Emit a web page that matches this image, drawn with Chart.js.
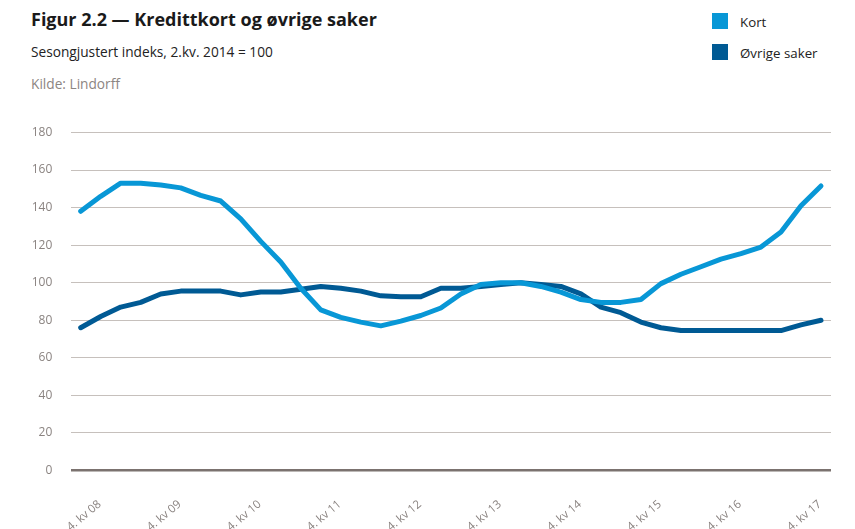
<!DOCTYPE html>
<html>
<head>
<meta charset="utf-8">
<script src="https://cdn.jsdelivr.net/npm/chart.js@4"></script>
<style>
html,body{margin:0;padding:0;background:#fff;overflow:hidden;width:855px;height:529px;}
body{position:relative;font-family:"Open Sans",sans-serif;}
.t{position:absolute;white-space:nowrap;line-height:1;}
#title{left:31px;top:10px;font-size:18px;font-weight:700;color:#1a1a1a;}
#sub{left:31px;top:44.5px;font-size:13.7px;color:#222;}
#src{left:31px;top:76.5px;font-size:13.7px;color:#8c8582;}
.sw{position:absolute;width:16px;height:16px;}
.lt{position:absolute;font-size:13.3px;color:#222;line-height:1;white-space:nowrap;}
#wrap{position:absolute;left:0;top:0;width:855px;height:536px;}
</style>
</head>
<body>
<div class="t" id="title">Figur 2.2 — Kredittkort og øvrige saker</div>
<div class="t" id="sub">Sesongjustert indeks, 2.kv. 2014 = 100</div>
<div class="t" id="src">Kilde: Lindorff</div>
<div id="legend"></div>
<div id="wrap"><canvas id="c"></canvas></div>
<script>
// Categories: quarters from 4. kv 2008 to 1. kv 2018
const quarters = [
  '4. kv 08',
  '1. kv 09','2. kv 09','3. kv 09','4. kv 09',
  '1. kv 10','2. kv 10','3. kv 10','4. kv 10',
  '1. kv 11','2. kv 11','3. kv 11','4. kv 11',
  '1. kv 12','2. kv 12','3. kv 12','4. kv 12',
  '1. kv 13','2. kv 13','3. kv 13','4. kv 13',
  '1. kv 14','2. kv 14','3. kv 14','4. kv 14',
  '1. kv 15','2. kv 15','3. kv 15','4. kv 15',
  '1. kv 16','2. kv 16','3. kv 16','4. kv 16',
  '1. kv 17','2. kv 17','3. kv 17','4. kv 17',
  '1. kv 18'
];
const kort = [138, 146, 153, 153, 152, 150.5, 146.5, 143.5, 134, 122, 111, 97, 85.5, 81.5, 79, 77, 79.5, 82.5, 86.5, 94, 99, 100, 100, 98, 95, 91, 89.5, 89.5, 91, 99.5, 104.5, 108.5, 112.5, 115.5, 119, 127, 141, 151.5];
const ovrige = [76, 82, 87, 89.5, 94, 95.5, 95.5, 95.5, 93.5, 95, 95, 96.5, 98, 97, 95.5, 93, 92.5, 92.5, 97, 97, 98, 99, 100, 99, 98, 94, 87, 84, 79, 76, 74.5, 74.5, 74.5, 74.5, 74.5, 74.5, 77.5, 80];
const seriesNames = ['Kort', 'Øvrige saker'];
const yTicks = [0, 20, 40, 60, 80, 100, 120, 140, 160, 180];

const colors = ['#0897d6', '#005a94'];

// HTML legend
const legend = document.getElementById('legend');
seriesNames.forEach((n, i) => {
  const sw = document.createElement('div');
  sw.className = 'sw';
  sw.style.left = '712px';
  sw.style.top = (13 + i * 31) + 'px';
  sw.style.background = colors[i];
  const lt = document.createElement('div');
  lt.className = 'lt';
  lt.style.left = '740px';
  lt.style.top = (15.5 + i * 31) + 'px';
  lt.textContent = n;
  legend.appendChild(sw);
  legend.appendChild(lt);
});

new Chart(document.getElementById('c'), {
  type: 'line',
  data: {
    labels: quarters,
    datasets: [
      { label: seriesNames[0], data: kort, borderColor: colors[0], backgroundColor: colors[0] },
      { label: seriesNames[1], data: ovrige, borderColor: colors[1], backgroundColor: colors[1] }
    ].map(d => Object.assign(d, {
      borderWidth: 5, pointRadius: 0, tension: 0, fill: false,
      borderCapStyle: 'round', borderJoinStyle: 'round'
    }))
  },
  options: {
    responsive: true,
    maintainAspectRatio: false,
    animation: false,
    layout: { padding: { left: 13.3, right: 24, top: 132.5, bottom: 0 } },
    plugins: { legend: { display: false }, tooltip: { enabled: false }, title: { display: false } },
    scales: {
      x: {
        offset: true,
        grid: { display: false, drawTicks: true, tickLength: 25 },
        border: { display: false },
        ticks: {
          autoSkip: false,
          minRotation: 40, maxRotation: 40,
          padding: 2,
          labelOffset: 19,
          color: '#8a8380',
          font: { family: 'Open Sans', size: 11.5 },
          callback: (v, i) => quarters[i].startsWith('4.') ? quarters[i] : ''
        }
      },
      y: {
        min: 0, max: 180,
        afterBuildTicks: s => { s.ticks = yTicks.map(v => ({ value: v })); },
        grid: {
          drawTicks: false,
          color: c => c.tick && c.tick.value === 0 ? '#7b726f' : '#c6c0bc',
          lineWidth: c => c.tick && c.tick.value === 0 ? 2.5 : 1
        },
        border: { display: false },
        ticks: {
          padding: 18.4,
          color: '#8a8380',
          font: { family: 'Open Sans', size: 12 }
        }
      }
    }
  }
});
</script>
</body>
</html>
